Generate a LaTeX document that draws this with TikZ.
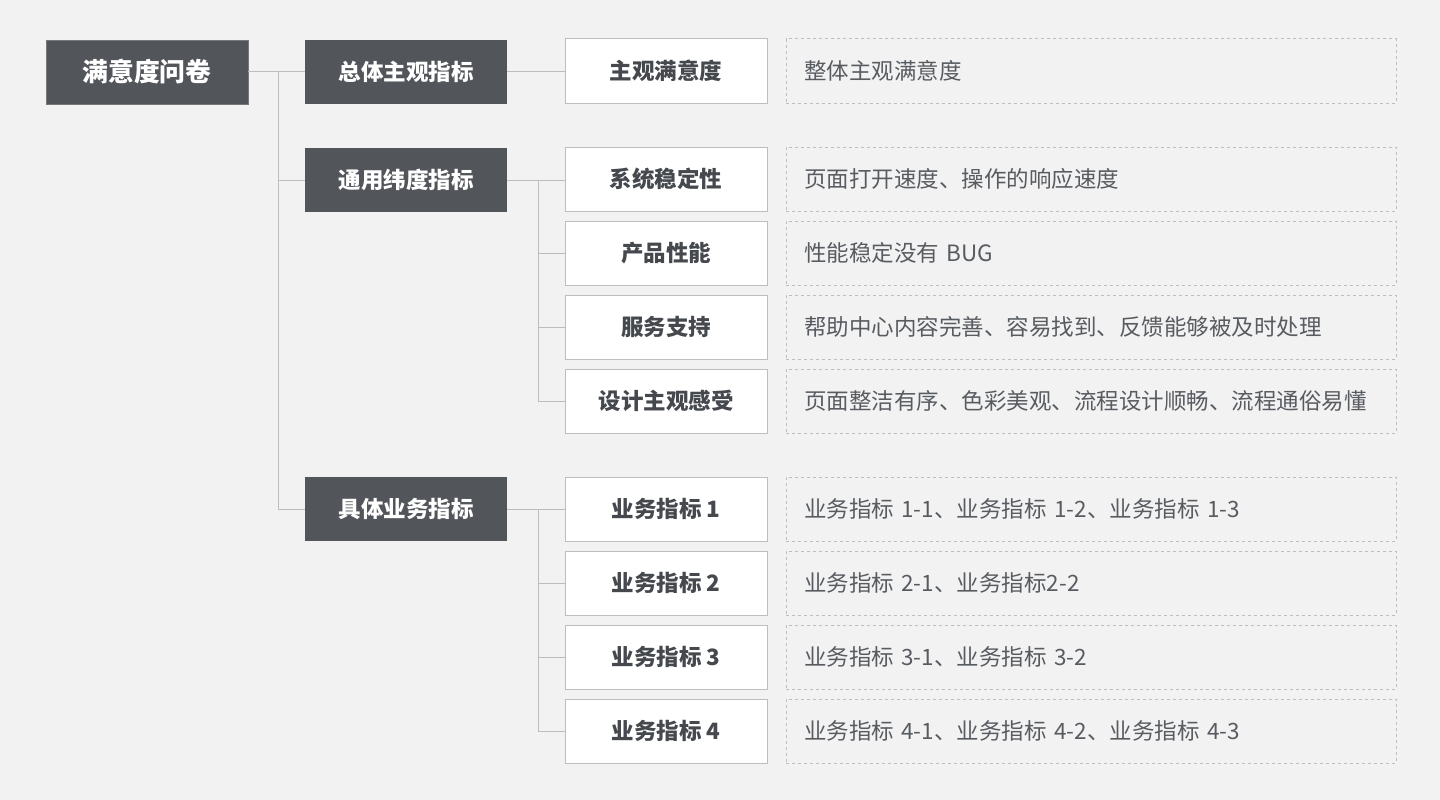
\documentclass[tikz,border=0pt]{standalone}
\usepackage{fontspec}
\setmainfont{Noto Sans CJK SC}
\usepackage{xcolor}
\usetikzlibrary{positioning}

\definecolor{bgcol}{HTML}{F2F2F2}
\definecolor{darkbox}{HTML}{52565B}
\definecolor{linecol}{HTML}{BDBDBD}
\definecolor{txtcol}{HTML}{45494E}
\definecolor{desccol}{HTML}{585C61}

\begin{document}
\begin{tikzpicture}[
x=1pt, y=-1pt,
node distance=9pt and 18pt,
rootbox/.style={rectangle, fill=darkbox, draw=darkbox!80, text=white, font=\fontsize{25.8}{30}\selectfont\bfseries, minimum width=202pt, minimum height=64pt},
catbox/.style={rectangle, fill=darkbox, text=white, font=\fontsize{22.5}{26}\selectfont\bfseries, minimum width=202pt, minimum height=64pt},
itembox/.style={rectangle, fill=white, draw=linecol, line width=1pt, text=txtcol, font=\fontsize{22.5}{26}\selectfont\bfseries, minimum width=202pt, minimum height=64pt},
descbox/.style={rectangle, draw=linecol, dashed, line width=1pt, text=desccol, font=\fontsize{22.5}{26}\selectfont, minimum width=610pt, minimum height=64pt, inner xsep=18pt, text width=574pt, align=left},
link/.style={draw=linecol, line width=1pt}
]

\fill[bgcol] (0,0) rectangle (1440,800);
\useasboundingbox (0,0) rectangle (1440,800);

% root
\node[rootbox] (survey) at (147,72) {满意度问卷};

% categories
\node[catbox] (overall) at (406,72) {总体主观指标};
\node[catbox] (general) at (406,180) {通用纬度指标};
\node[catbox] (business) at (406,509) {具体业务指标};

% items
\node[itembox] (subjective) at (666,71) {主观满意度};

\node[itembox] (stability) at (666,179) {系统稳定性};
\node[itembox, below=of stability] (performance) {产品性能};
\node[itembox, below=of performance] (service) {服务支持};
\node[itembox, below=of service] (design) {设计主观感受};

\node[itembox] (biz1) at (666,509) {业务指标 1};
\node[itembox, below=of biz1] (biz2) {业务指标 2};
\node[itembox, below=of biz2] (biz3) {业务指标 3};
\node[itembox, below=of biz3] (biz4) {业务指标 4};

% descriptions
\node[descbox, right=of subjective] (d_subjective) {整体主观满意度};
\node[descbox, right=of stability] (d_stability) {页面打开速度、操作的响应速度};
\node[descbox, right=of performance] (d_performance) {性能稳定没有 BUG};
\node[descbox, right=of service] (d_service) {帮助中心内容完善、容易找到、反馈能够被及时处理};
\node[descbox, right=of design] (d_design) {页面整洁有序、色彩美观、流程设计顺畅、流程通俗易懂};
\node[descbox, right=of biz1] (d_biz1) {业务指标 1-1、业务指标 1-2、业务指标 1-3};
\node[descbox, right=of biz2] (d_biz2) {业务指标 2-1、业务指标2-2};
\node[descbox, right=of biz3] (d_biz3) {业务指标 3-1、业务指标 3-2};
\node[descbox, right=of biz4] (d_biz4) {业务指标 4-1、业务指标 4-2、业务指标 4-3};

% connectors
\coordinate (trunk) at (278,72);
\coordinate (genfork) at (538,180);
\coordinate (bizfork) at (538,509);

\draw[link] (survey) -- (overall);
\draw[link] (trunk) |- (general);
\draw[link] (trunk) |- (business);

\draw[link] (overall.east) -- (subjective.west |- overall.east);

\draw[link] (general.east) -- (stability.west |- general.east);
\draw[link] (genfork) |- (performance);
\draw[link] (genfork) |- (service);
\draw[link] (genfork) |- (design);

\draw[link] (business) -- (biz1);
\draw[link] (bizfork) |- (biz2);
\draw[link] (bizfork) |- (biz3);
\draw[link] (bizfork) |- (biz4);

\end{tikzpicture}
\end{document}
